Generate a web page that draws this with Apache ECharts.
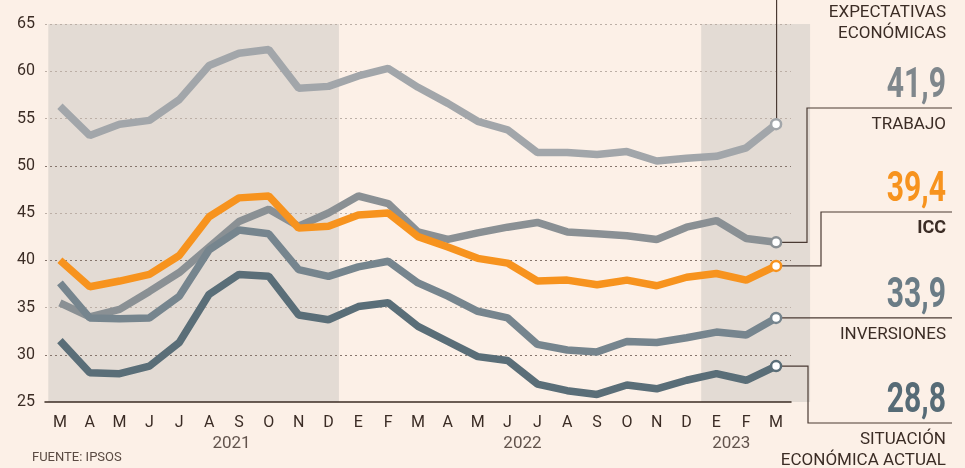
<!DOCTYPE html>
<html>
<head>
<meta charset="utf-8">
</head>
<body style="margin:0;background:#fcf0e7">
<div id="container" style="width:965px;height:468px"></div>
<script src="https://cdn.jsdelivr.net/npm/echarts@6/dist/echarts.min.js"></script>
<script>
var months = ['M','A','M','J','J','A','S','O','N','D','E','F','M','A','M','J','J','A','S','O','N','D','E','F','M'];
var yearLabels = ['2021', '2022', '2023'];
var yearPos = [5.75, 15.5, 22.5];
var bands = [[-0.39, 9.35], [21.49, 25.14]];

var expectativas = [56.3, 53.2, 54.4, 54.8, 57.0, 60.6, 61.9, 62.3, 58.2, 58.4, 59.5, 60.3, 58.3, 56.6, 54.7, 53.8, 51.4, 51.4, 51.2, 51.5, 50.5, 50.8, 51.0, 51.9, 54.4];
var trabajo = [35.5, 34.0, 34.8, 36.7, 38.7, 41.4, 44.1, 45.4, 43.6, 45.0, 46.8, 46.0, 43.0, 42.2, 42.9, 43.5, 44.0, 43.0, 42.8, 42.6, 42.2, 43.5, 44.2, 42.3, 41.9];
var icc = [40.0, 37.2, 37.8, 38.5, 40.5, 44.6, 46.6, 46.8, 43.4, 43.6, 44.8, 45.0, 42.5, 41.4, 40.2, 39.7, 37.8, 37.9, 37.4, 37.9, 37.3, 38.2, 38.6, 37.9, 39.4];
var inversiones = [37.6, 33.9, 33.8, 33.9, 36.2, 41.1, 43.2, 42.8, 39.0, 38.3, 39.3, 39.9, 37.6, 36.2, 34.6, 33.9, 31.1, 30.5, 30.3, 31.4, 31.3, 31.8, 32.4, 32.1, 33.9];
var situacion = [31.5, 28.1, 28.0, 28.8, 31.3, 36.4, 38.5, 38.3, 34.2, 33.7, 35.1, 35.5, 33.0, 31.4, 29.8, 29.4, 26.9, 26.2, 25.8, 26.8, 26.4, 27.3, 28.0, 27.3, 28.8];

var dark = '#3b2c25';
var seriesList = [
  {name: 'EXPECTATIVAS\nECONÓMICAS', data: expectativas, color: '#a2a6aa', numColor: '#8d9398'},
  {name: 'TRABAJO', data: trabajo, color: '#8a9094', numColor: '#7f878c'},
  {name: 'INVERSIONES', data: inversiones, color: '#76858e', numColor: '#6b7c86'},
  {name: 'SITUACIÓN\nECONÓMICA ACTUAL', data: situacion, color: '#5a6e78', numColor: '#566b76'},
  {name: 'ICC', data: icc, color: '#f7931e', numColor: '#f7931e'}
];

var dom = document.getElementById('container');
var myChart = echarts.init(dom);

var series = [{
  type: 'custom',
  xAxisIndex: 1,
  clip: false,
  z: -1,
  silent: true,
  data: bands,
  renderItem: function (params, api) {
    var p0 = api.coord([api.value(0), 65]);
    var p1 = api.coord([api.value(1), 25]);
    return {
      type: 'rect',
      shape: {x: p0[0], y: p0[1], width: p1[0] - p0[0], height: p1[1] - p0[1]},
      style: {fill: '#e3dbd4'}
    };
  }
}, {
  type: 'scatter',
  xAxisIndex: 1,
  clip: false,
  symbolSize: 0,
  silent: true,
  data: yearPos.map(function (x, i) { return [x, 25, yearLabels[i]]; }),
  label: {
    show: true,
    position: 'inside',
    offset: [0, 42],
    formatter: function (p) { return p.data[2]; },
    color: dark,
    fontSize: 17,
    fontFamily: 'Roboto'
  }
}];

seriesList.forEach(function (s) {
  series.push({
    name: s.name,
    type: 'line',
    data: s.data,
    showAllSymbol: true,
    symbol: function (v, p) { return p.dataIndex === s.data.length - 1 ? 'circle' : 'none'; },
    symbolSize: 10,
    lineStyle: {color: s.color, width: 7.5},
    itemStyle: {color: '#fff', borderColor: s.color, borderWidth: 2.5},
    emphasis: {disabled: true},
    z: 3
  });
});

var option = {
  backgroundColor: '#fcf0e7',
  animation: false,
  grid: {left: 45, right: 174, top: 24, bottom: 66},
  xAxis: [{
    type: 'category',
    data: months,
    boundaryGap: true,
    axisLine: {lineStyle: {color: dark, width: 1.5}},
    axisTick: {show: false},
    axisLabel: {color: dark, fontSize: 16, fontFamily: 'Roboto', margin: 13, interval: 0}
  }, {
    type: 'value',
    min: -0.5,
    max: 24.5,
    show: false
  }],
  yAxis: {
    type: 'value',
    min: 25,
    max: 65,
    interval: 5,
    axisLine: {show: false},
    axisTick: {show: false},
    axisLabel: {color: dark, fontSize: 16, fontFamily: 'Roboto', margin: 10, padding: [5, 0, 0, 0]},
    splitLine: {
      lineStyle: {
        type: [2, 3],
        width: 1,
        color: ['rgba(0,0,0,0)', '#85756c', '#bcafa6', '#85756c', '#bcafa6', '#85756c', '#bcafa6', '#bcafa6', '#bcafa6']
      }
    }
  },
  series: series
};
myChart.setOption(option);

// leader lines and end labels
function px(s) {
  var last = s.data.length - 1;
  return myChart.convertToPixel({xAxisIndex: 0, yAxisIndex: 0}, [last, s.data[last]]);
}
function fmt(v) { return v.toFixed(1).replace('.', ','); }

var lineColor = '#4a3a33';
var rightX = 946;
var numFont = 'bold 43px Roboto, sans-serif';
var nameFont = '17px Roboto';
var g = [];

// expectativas
var pE = px(seriesList[0]);
g.push({type: 'polyline', shape: {points: [[pE[0] + 0.5, pE[1] - 5], [pE[0] + 0.5, 0]]}, style: {stroke: lineColor, lineWidth: 1.2, fill: null}});
g.push({type: 'text', style: {text: 'EXPECTATIVAS\nECONÓMICAS', x: rightX, y: 2, align: 'right', verticalAlign: 'top', font: nameFont, lineHeight: 21, fill: dark}});

// elbow labels: [seriesIndex, elbowX, labelLineY, nameBold]
var layouts = [
  [1, 807, 108, false],
  [4, 821, 212, true],
  [2, null, null, false],
  [3, 808, 423, false]
];
layouts.forEach(function (l) {
  var s = seriesList[l[0]];
  var p = px(s);
  var ly = l[2] === null ? p[1] : l[2];
  var pts = l[1] === null ? [[p[0] + 5, p[1]], [952, p[1]]] : [[p[0] + 5, p[1]], [l[1], p[1]], [l[1], ly], [952, ly]];
  g.push({type: 'polyline', shape: {points: pts}, style: {stroke: lineColor, lineWidth: 1.2, fill: null}});
  g.push({type: 'text', x: rightX, y: ly, scaleX: 0.7, style: {text: fmt(s.data[s.data.length - 1]), x: 0, y: 0, align: 'right', verticalAlign: 'bottom', font: numFont, fill: s.numColor}});
  g.push({type: 'text', style: {text: s.name, x: rightX, y: ly + 6, align: 'right', verticalAlign: 'top', font: (l[3] ? 'bold 18px Roboto' : nameFont), lineHeight: 21, fill: dark}});
});

g.push({type: 'text', style: {text: 'FUENTE: IPSOS', x: 32, y: 458, verticalAlign: 'middle', font: '13px Roboto', fill: '#5a4a42'}});

myChart.setOption({graphic: g});
</script>
</body>
</html>
